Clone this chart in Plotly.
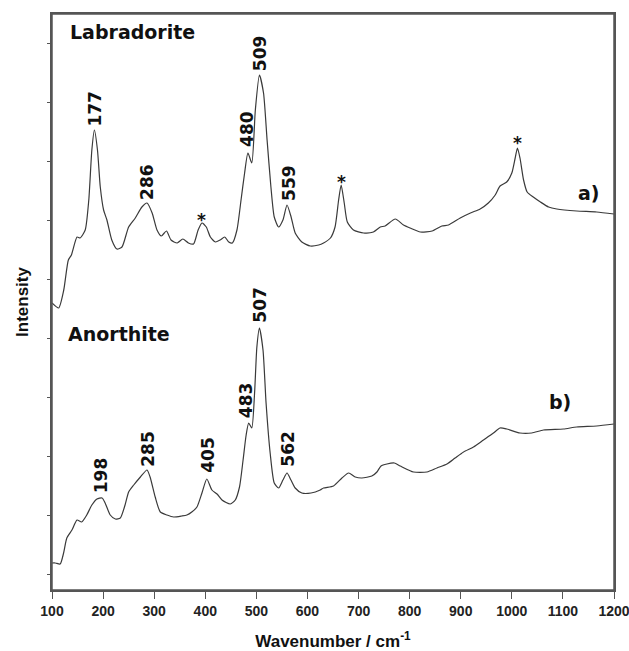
import plotly.graph_objects as go

# Labradorite spectrum (a)
wn_a = [100, 113, 123, 132, 138, 149, 155, 165, 172, 178, 183, 189, 194.5, 201, 207.5, 217, 227, 237,
        250, 263, 276, 286, 296, 305.5, 314, 324, 333, 345, 356, 367, 377, 386, 393.5, 402, 410, 420,
        429, 438, 446, 453, 462, 470, 477, 483.5, 491, 498, 506, 514, 521, 528.5, 535, 543.5, 552, 560,
        568, 576, 589, 605.5, 622, 631.5, 645, 654, 661, 666, 672, 678, 690, 710, 729, 742.5, 752, 772,
        788, 801, 821, 844, 863, 876, 899, 919, 938, 954, 967.5, 977, 990, 1000, 1006.6, 1011, 1016,
        1023, 1030, 1042, 1056, 1072, 1088, 1127, 1166, 1200]
int_a = [287, 282, 300, 330, 335, 353, 352, 360, 390, 440, 460, 440, 403, 380, 370, 350, 341, 343,
         363, 372, 383, 387, 377, 360, 354, 359, 350, 347, 351, 347, 346, 360, 367, 363, 353, 348,
         350, 353, 348, 347, 360, 390, 417, 437, 427, 480, 515, 497, 450, 403, 373, 363, 370, 385,
         373, 357, 348, 344, 345, 347, 352, 363, 390, 405, 387, 368, 360, 357, 358, 363, 364, 371,
         365, 362, 358, 359, 364, 365, 372, 377, 381, 387, 395, 404, 408, 417, 432, 442, 432,
         410, 398, 393, 388, 383, 381, 379, 378, 376]

# Anorthite spectrum (b)
wn_b = [100, 106.5, 116, 122.7, 129, 139, 149, 158, 168, 178, 188, 198, 204, 214, 224, 233.7, 243, 250,
        260, 273, 286, 292, 302, 312, 325, 338, 354, 364, 373.6, 383.7, 393.5, 403, 413, 423, 432.7,
        449, 458.7, 467, 474, 480, 485, 491, 496.5, 501, 506, 513, 519, 527, 535, 543.5, 552, 560,
        567.7, 576, 589, 607, 625, 631.5, 651, 667.5, 680.5, 693.5, 706.6, 726, 736, 744, 755.6, 770,
        781.6, 807.7, 833.8, 853.4, 873, 889, 905.5, 925, 944.6, 964, 977, 990, 1016, 1039, 1062,
        1101, 1127, 1166, 1200]
int_b = [27, 27, 26, 37, 52, 60, 70, 68, 75, 85, 91, 92, 87, 75, 71, 72, 85, 98,
         105, 113, 120, 113, 93, 78, 75, 73, 74, 75, 78, 83, 97, 111, 100, 96, 90,
         86, 90, 103, 130, 155, 167, 162, 197, 243, 262, 240, 187, 137, 107, 102, 110, 117,
         110, 102, 97, 97, 100, 102, 104, 112, 117, 113, 112, 114, 118, 124, 126, 127,
         124, 118, 118, 122, 126, 132, 138, 143, 150, 157, 162, 161, 157, 157, 160,
         161, 163, 164, 166]

# Peak labels: (text, wavenumber, intensity of label centre)
labels_a = ["177", "286", "*", "480", "509", "559", "*", "*"]
labels_a_x = [183.3, 285.8, 393.4, 481.5, 507.5, 562.8, 666, 1010.8]
labels_a_y = [481, 408, 370, 461, 537, 407.5, 408, 447]
labels_b = ["198", "285", "405", "483", "507", "562"]
labels_b_x = [196.4, 287.4, 404.8, 480, 506.5, 561.3]
labels_b_y = [115, 141, 135, 190, 285, 141]

# Sample names and panel tags
names = ["Labradorite", "Anorthite"]
names_x = [258, 231.5]
names_y = [558.5, 256]
tags = ["a)", "b)"]
tags_x = [1151.6, 1094.6]
tags_y = [397, 188]

x_ticks = [100, 200, 300, 400, 500, 600, 700, 800, 900, 1000, 1100, 1200]

LINE = "#3a3a3a"
AX = "#555555"
lab_font = dict(family="DejaVu Sans", size=17, color="#111111", weight="bold")
name_font = dict(family="DejaVu Sans", size=19, color="#111111", weight="bold")

fig = go.Figure()
for xs, ys in [(wn_a, int_a), (wn_b, int_b)]:
    fig.add_trace(go.Scatter(x=xs, y=ys, mode="lines",
                             line=dict(color=LINE, width=1.2, shape="spline", smoothing=0.6),
                             showlegend=False, hoverinfo="skip"))

ann = []
for t, x, y in list(zip(labels_a, labels_a_x, labels_a_y)) + list(zip(labels_b, labels_b_x, labels_b_y)):
    ann.append(dict(x=x, y=y, xref="x", yref="y", text=t, showarrow=False,
                    textangle=0 if t == "*" else -90, xanchor="center", yanchor="middle",
                    font=lab_font))
for t, x, y in zip(names, names_x, names_y):
    ann.append(dict(x=x, y=y, xref="x", yref="y", text=t, showarrow=False,
                    xanchor="center", yanchor="middle", font=name_font))
for t, x, y in zip(tags, tags_x, tags_y):
    ann.append(dict(x=x, y=y, xref="x", yref="y", text=t, showarrow=False,
                    xanchor="center", yanchor="middle", font=name_font))

fig.add_shape(type="rect", xref="x domain", yref="y domain", x0=0, x1=1, y0=0, y1=1,
              line=dict(color=AX, width=1.5), fillcolor="rgba(0,0,0,0)", layer="above")

fig.update_layout(
    width=629, height=651,
    margin=dict(l=52, r=15, t=14, b=61, autoexpand=False),
    paper_bgcolor="white", plot_bgcolor="white",
    annotations=ann,
    xaxis=dict(range=[100, 1200], tickvals=x_ticks, ticktext=[str(v) for v in x_ticks],
               ticks="outside", ticklen=7, tickwidth=1.2, tickcolor=AX,
               ticklabeloverflow="allow",
               showline=True, linecolor=AX, linewidth=1.5, mirror=True,
               showgrid=False, zeroline=False,
               tickfont=dict(family="Liberation Sans", size=14, color="#222222", weight="bold"),
               title=dict(text="Wavenumber / cm<sup>-1</sup>", standoff=19,
                          font=dict(family="Liberation Sans", size=17, color="#111111", weight="bold"))),
    yaxis=dict(range=[0, 576], tick0=16, dtick=59, ticks="outside", ticklen=3, tickwidth=1,
               tickcolor=AX, showticklabels=False,
               showline=True, linecolor=AX, linewidth=1.5, mirror=True,
               showgrid=False, zeroline=False,
               title=dict(text="Intensity", standoff=14,
                          font=dict(family="Liberation Sans", size=17, color="#111111", weight="bold"))),
)

fig.write_html("out.html", config={"displayModeBar": False},
               post_script="document.body.style.margin='0';document.body.style.padding='0';")
